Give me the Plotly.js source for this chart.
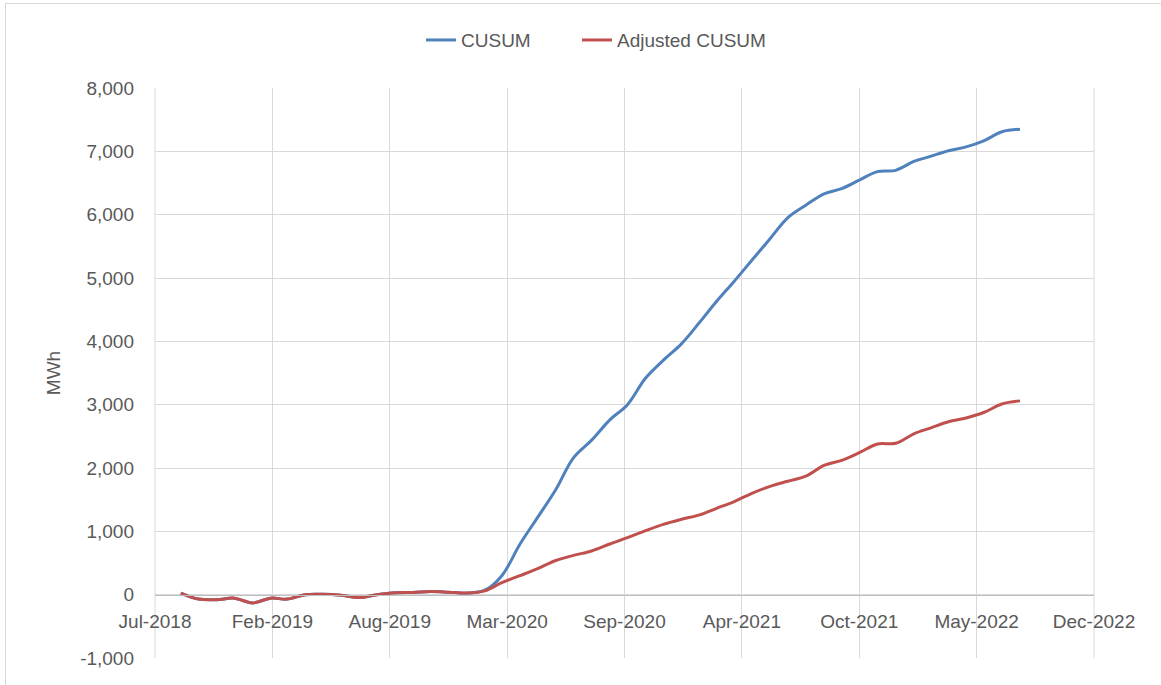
<!DOCTYPE html>
<html>
<head>
<meta charset="utf-8">
<script src="https://cdn.plot.ly/plotly-3.0.1.min.js"></script>
<style>
  html, body { margin: 0; padding: 0; background: #ffffff; overflow: hidden; }
  #frame { position: absolute; left: 5px; top: 3px; width: 1170px; height: 700px; border: 1px solid #d9d9d9; box-sizing: border-box; pointer-events: none; }
  #chart { position: absolute; left: 0; top: 0; width: 1161px; height: 685px; }
</style>
</head>
<body>
<div id="chart"></div>
<div id="frame"></div>
<script>
// monthly readings, Sep-2018 .. Aug-2022
const months = [
  "2018-09-01", "2018-10-01", "2018-11-01", "2018-12-01",
  "2019-01-01", "2019-02-01", "2019-03-01", "2019-04-01", "2019-05-01", "2019-06-01",
  "2019-07-01", "2019-08-01", "2019-09-01", "2019-10-01", "2019-11-01", "2019-12-01",
  "2020-01-01", "2020-02-01", "2020-03-01", "2020-04-01", "2020-05-01", "2020-06-01",
  "2020-07-01", "2020-08-01", "2020-09-01", "2020-10-01", "2020-11-01", "2020-12-01",
  "2021-01-01", "2021-02-01", "2021-03-01", "2021-04-01", "2021-05-01", "2021-06-01",
  "2021-07-01", "2021-08-01", "2021-09-01", "2021-10-01", "2021-11-01", "2021-12-01",
  "2022-01-01", "2022-02-01", "2022-03-01", "2022-04-01", "2022-05-01", "2022-06-01",
  "2022-07-01", "2022-08-01",
];

// MWh
const cusum = [
  25, -70, -80, -55, -130, -55, -70, 0, 5, -10, -45, 0, 30, 35, 50, 40,
  25, 70, 300, 800, 1220, 1660, 2160, 2440, 2760, 3000, 3420, 3700,
  3960, 4300, 4620, 4950, 5280, 5620, 5950, 6150, 6330, 6410, 6550, 6680,
  6700, 6840, 6920, 7010, 7070, 7170, 7310, 7350,
];
const adjustedCusum = [
  25, -70, -80, -55, -130, -55, -70, 0, 5, -10, -45, 0, 30, 35, 50, 40,
  25, 60, 190, 300, 410, 540, 620, 690, 800, 900, 1010, 1110,
  1190, 1260, 1360, 1470, 1600, 1710, 1790, 1870, 2040, 2120, 2245, 2380,
  2390, 2540, 2630, 2730, 2790, 2880, 3010, 3060,
];

const yTicks = [-1000, 0, 1000, 2000, 3000, 4000, 5000, 6000, 7000, 8000];
const yTickText = yTicks.map((v) => v.toLocaleString("en-US"));

const BLUE = "#4f81bd";
const RED = "#c0504d";
const GRID = "#d9d9d9";
const TEXT = "#595959";
const DAY_MS = 86400000;

// each series gets its own legend box so the gap between entries can match
const traces = [
  { x: months, y: cusum, type: "scatter", mode: "lines", name: "CUSUM", legend: "legend",
    line: { color: BLUE, width: 3, shape: "spline", smoothing: 1 } },
  { x: months, y: adjustedCusum, type: "scatter", mode: "lines", name: "Adjusted CUSUM", legend: "legend2",
    line: { color: RED, width: 3, shape: "spline", smoothing: 1 } },
];

const yMin = yTicks[0], yMax = yTicks[yTicks.length - 1];
const legendBase = {
  orientation: "h", xanchor: "left", y: 1.084, yanchor: "middle",
  font: { size: 19, color: TEXT }, bgcolor: "rgba(0,0,0,0)",
};

const layout = {
  width: 1161,
  height: 685,
  paper_bgcolor: "rgba(0,0,0,0)",
  plot_bgcolor: "#ffffff",
  font: { family: "Liberation Sans, Arial, sans-serif", size: 19, color: TEXT },
  margin: { l: 155, r: 67, t: 88, b: 27 },
  showlegend: true,
  legend: { ...legendBase, x: 0.2833 },
  legend2: { ...legendBase, x: 0.4494 },
  // plot-area edges (first and last vertical gridlines)
  shapes: [0, 1].map((xp) => ({
    type: "line", xref: "paper", yref: "paper", x0: xp, x1: xp, y0: 0, y1: 1,
    line: { color: GRID, width: 1 }, layer: "below",
  })),
  xaxis: {
    type: "date",
    range: ["2018-07-19", "2022-12-05"],
    tick0: "2018-07-19",
    dtick: 200 * DAY_MS,
    tickformat: "%b-%Y",
    showgrid: true, gridcolor: GRID, gridwidth: 1,
    showline: true, linecolor: "#bfbfbf", linewidth: 1,
    zeroline: false,
    ticks: "",
    ticklabelstandoff: 10,
    anchor: "free",
    position: (0 - yMin) / (yMax - yMin),
  },
  yaxis: {
    range: [yMin, yMax],
    tickvals: yTicks,
    ticktext: yTickText,
    showgrid: true, gridcolor: GRID, gridwidth: 1,
    zeroline: false,
    showline: false,
    ticks: "",
    ticklabelstandoff: 20,
    title: { text: "MWh", font: { size: 19, color: TEXT }, standoff: 14 },
  },
};

Plotly.newPlot("chart", traces, layout, { displayModeBar: false, staticPlot: true });
</script>
</body>
</html>
